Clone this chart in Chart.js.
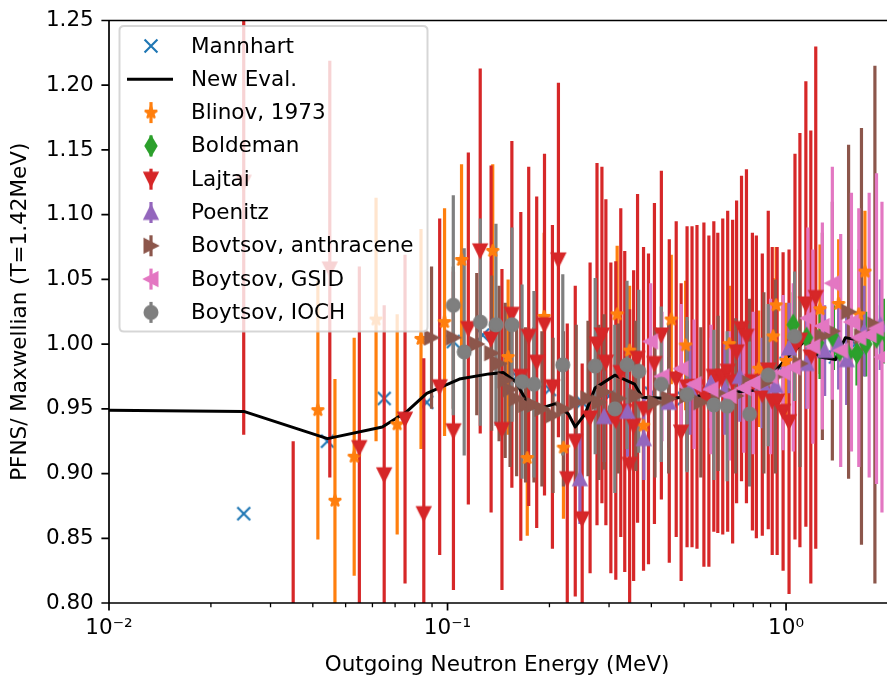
<!DOCTYPE html>
<html><head><meta charset="utf-8">
<script src="https://cdn.jsdelivr.net/npm/chart.js@4.4.0/dist/chart.umd.min.js"></script>
<style>html,body{margin:0;padding:0;background:#fff;}canvas{display:block;}</style>
</head><body>
<canvas id="c" width="893" height="680"></canvas>
<script>
// ---------------- data ----------------
const mannhartE = [0.025,0.0442,0.065,0.0868,0.104,0.127,0.16,0.2,0.25,0.3,0.4,0.5,0.6,0.7,0.8,0.9,1.0,1.2,1.4,1.6,1.8];
const mannhartV = [0.869,0.925,0.958,0.955,1.002,1.007,0.975,0.965,0.955,0.960,0.962,0.958,0.960,0.963,0.965,0.975,0.985,0.995,0.990,1.000,1.005];

const evalE = [0.01,0.025,0.0442,0.0642,0.0759,0.0868,0.1084,0.1327,0.146,0.159,0.1737,0.1858,0.2084,0.2275,0.2384,0.2548,0.2727,0.312,0.357,0.376,0.45,0.55,0.65,0.714,0.84,1.0,1.144,1.257,1.40,1.497,1.72,1.96];
const evalV = [0.949,0.948,0.927,0.936,0.948,0.962,0.973,0.977,0.978,0.971,0.953,0.950,0.954,0.946,0.936,0.946,0.966,0.976,0.969,0.959,0.958,0.960,0.962,0.963,0.965,0.989,1.003,0.990,0.988,1.005,1.002,1.015];

const blinovE = [0.0414,0.0465,0.053,0.0615,0.071,0.0835,0.098,0.110,0.136,0.151,0.172,0.193,0.22,0.317,0.345,0.379,0.458,0.505,0.68,0.83,0.916,0.935,1.0,1.26,1.43,1.64,1.71];
const blinovV = [0.949,0.879,0.913,1.019,0.938,1.004,1.017,1.065,1.072,0.990,0.912,1.021,0.920,1.023,0.995,0.937,1.019,0.999,1.000,0.981,1.006,1.030,0.987,1.027,1.031,1.023,1.056];
const blinovErr = [0.10,0.094,0.092,0.094,0.085,0.085,0.088,0.074,0.067,0.06,0.06,0.065,0.055,0.053,0.05,0.05,0.05,0.05,0.045,0.045,0.045,0.045,0.045,0.05,0.05,0.05,0.047];

const boldemanE = [1.05,1.15,1.26,1.38,1.44,1.52,1.62,1.72,1.85,1.95];
const boldemanV = [1.015,1.005,0.998,1.005,0.995,0.992,0.993,1.000,1.005,1.010];
const boldemanErr = [0.025,0.025,0.025,0.025,0.025,0.025,0.025,0.025,0.025,0.025];

const lajtaiE = [0.0250,0.0350,0.0449,0.0549,0.0650,0.0749,0.0851,0.0948,0.1041,0.1152,0.1249,0.1345,0.1448,0.1549,0.1646,0.1737,0.1834,0.1934,0.2041,0.2126,0.2258,0.2384,0.2499,0.2637,0.2764,0.2858,0.2936,0.3037,0.3141,0.3249,0.3338,0.3451,0.3546,0.3642,0.3793,0.3923,0.4085,0.4282,0.4519,0.4737,0.4898,0.5100,0.5275,0.5456,0.5719,0.5916,0.6118,0.6285,0.6501,0.6723,0.6953,0.7143,0.7386,0.7638,0.7954,0.8171,0.8508,0.8860,0.9102,0.9412,0.9800,1.0205,1.0625,1.0988,1.1442,1.1833,1.2238];
const lajtaiV = [1.125,0.760,1.058,0.920,0.899,0.942,0.869,0.967,0.933,1.012,1.072,1.004,0.934,1.023,0.975,1.006,0.986,1.015,0.967,1.065,0.896,0.925,0.865,0.943,1.000,1.007,0.986,0.943,0.941,0.978,0.948,0.907,0.937,0.989,0.950,0.950,0.985,1.007,0.956,0.973,0.932,0.967,0.967,0.967,0.961,0.956,0.975,0.970,0.975,0.979,0.971,0.994,1.012,1.006,0.971,0.967,0.961,0.980,0.956,0.956,0.948,0.940,0.998,1.003,1.031,0.990,1.036];
const lajtaiErr = [0.195,0.165,0.161,0.140,0.131,0.127,0.120,0.130,0.123,0.136,0.141,0.134,0.124,0.134,0.127,0.131,0.128,0.132,0.125,0.137,0.120,0.120,0.120,0.120,0.140,0.130,0.126,0.120,0.123,0.127,0.124,0.120,0.120,0.127,0.125,0.120,0.124,0.127,0.125,0.122,0.115,0.124,0.124,0.125,0.133,0.128,0.120,0.116,0.122,0.124,0.125,0.117,0.118,0.129,0.115,0.117,0.109,0.123,0.119,0.119,0.123,0.133,0.149,0.160,0.172,0.175,0.194];

const poenitzE = [0.246,0.29,0.34,0.38,0.45,0.52,0.60,0.66,0.73,0.85,0.93,1.02,1.15,1.30,1.43,1.51,1.70,1.90];
const poenitzV = [0.896,0.944,0.948,0.927,0.955,0.965,0.970,0.965,0.975,0.970,0.968,0.997,0.985,0.995,1.000,0.988,1.010,1.015];
const poenitzErr = [0.035,0.035,0.035,0.032,0.035,0.035,0.035,0.035,0.035,0.035,0.035,0.035,0.035,0.035,0.035,0.035,0.035,0.035];

const anthraceneE = [0.0897,0.104,0.122,0.135,0.142,0.148,0.153,0.160,0.170,0.180,0.190,0.205,0.22,0.24,0.26,0.28,0.29,0.32,0.36,0.41,0.45,0.51,0.56,0.63,0.71,0.78,0.86,0.93,1.1,1.28,1.37,1.53,1.67,1.83];
const anthraceneV = [1.005,1.005,1.000,0.993,0.985,0.972,0.965,0.958,0.953,0.953,0.950,0.945,0.950,0.955,0.958,0.955,0.963,0.958,0.960,0.955,0.958,0.960,0.955,0.962,0.960,0.970,0.970,0.975,0.985,1.006,1.010,1.025,1.006,1.015];
const anthraceneErr = [0.055,0.055,0.055,0.06,0.06,0.06,0.06,0.06,0.06,0.06,0.06,0.06,0.06,0.06,0.06,0.06,0.06,0.058,0.058,0.058,0.058,0.058,0.058,0.06,0.06,0.065,0.07,0.075,0.08,0.08,0.10,0.129,0.161,0.20];

const gsidE = [0.398,0.43,0.49,0.535,0.60,0.68,0.75,0.80,0.90,0.98,1.05,1.16,1.20,1.28,1.37,1.45,1.56,1.64,1.76,1.85,1.92];
const gsidV = [1.002,0.975,0.981,0.969,0.965,0.960,0.966,0.970,0.975,0.978,0.982,1.020,0.998,1.014,1.047,0.995,1.017,1.005,1.007,1.012,0.990];
const gsidErr = [0.045,0.05,0.05,0.05,0.05,0.05,0.05,0.055,0.06,0.06,0.065,0.07,0.075,0.08,0.09,0.09,0.10,0.10,0.11,0.12,0.12];

const iochE = [0.104,0.112,0.125,0.139,0.155,0.166,0.180,0.219,0.273,0.312,0.339,0.367,0.428,0.510,0.612,0.670,0.780,0.886,1.06];
const iochV = [1.030,0.994,1.017,1.015,1.015,0.971,0.969,0.984,0.983,0.950,0.984,0.979,0.969,0.961,0.953,0.952,0.946,0.976,1.006];
const iochErr = [0.085,0.08,0.08,0.078,0.075,0.075,0.072,0.07,0.068,0.065,0.065,0.063,0.06,0.06,0.058,0.058,0.056,0.055,0.05];

const xMajorTicks = [0.01, 0.1, 1];
const xTickLabels = ['10\u207B\u00B2', '10\u207B\u00B9', '10\u2070'];
const xMinorTicks = [0.02,0.03,0.04,0.05,0.06,0.07,0.08,0.09,0.2,0.3,0.4,0.5,0.6,0.7,0.8,0.9];
const yTicks = [0.80,0.85,0.90,0.95,1.00,1.05,1.10,1.15,1.20,1.25];
const yTickLabels = ['0.80','0.85','0.90','0.95','1.00','1.05','1.10','1.15','1.20','1.25'];

// ---------------- styling ----------------
const FONT = 'DejaVu Sans';
const FS = 21.5;
const MS = 12.9, MEW = 2.15, ELW = 3.2;

function makeMarker(kind, color) {
  const S = 36, c = document.createElement('canvas');
  c.width = S; c.height = S;
  const g = c.getContext('2d');
  g.translate(S / 2, S / 2);
  g.fillStyle = color; g.strokeStyle = color; g.lineWidth = MEW;
  g.lineJoin = 'miter'; g.miterLimit = 10;
  const h = MS / 2;
  g.beginPath();
  if (kind === 'tri') { g.moveTo(0, -h); g.lineTo(h, h); g.lineTo(-h, h); g.closePath(); }
  else if (kind === 'star') {
    g.lineJoin = 'bevel';
    for (let k = 0; k < 10; k++) {
      const r = k % 2 ? h * 0.381966 : h;
      const a = -Math.PI / 2 + k * Math.PI / 5;
      const px = r * Math.cos(a), py = r * Math.sin(a);
      if (k) g.lineTo(px, py); else g.moveTo(px, py);
    }
    g.closePath();
  }
  else if (kind === 'thin') { g.moveTo(0, -0.7071 * MS); g.lineTo(0.4243 * MS, 0); g.lineTo(0, 0.7071 * MS); g.lineTo(-0.4243 * MS, 0); g.closePath(); }
  else if (kind === 'circle') { g.arc(0, 0, h, 0, Math.PI * 2); }
  else if (kind === 'x') { g.moveTo(-h, -h); g.lineTo(h, h); g.moveTo(-h, h); g.lineTo(h, -h); g.stroke(); return c; }
  g.fill(); g.stroke();
  return c;
}

const series = [
  {label: 'Mannhart', color: '#1f77b4', kind: 'x', rot: 0, E: mannhartE, V: mannhartV, err: null},
  {label: 'New Eval.', color: '#000000', kind: 'line', rot: 0, E: evalE, V: evalV, err: null},
  {label: 'Blinov, 1973', color: '#ff7f0e', kind: 'star', rot: 0, E: blinovE, V: blinovV, err: blinovErr},
  {label: 'Boldeman', color: '#2ca02c', kind: 'thin', rot: 0, E: boldemanE, V: boldemanV, err: boldemanErr},
  {label: 'Lajtai', color: '#d62728', kind: 'tri', rot: 180, E: lajtaiE, V: lajtaiV, err: lajtaiErr},
  {label: 'Poenitz', color: '#9467bd', kind: 'tri', rot: 0, E: poenitzE, V: poenitzV, err: poenitzErr},
  {label: 'Bovtsov, anthracene', color: '#8c564b', kind: 'tri', rot: 90, E: anthraceneE, V: anthraceneV, err: anthraceneErr},
  {label: 'Boytsov, GSID', color: '#e377c2', kind: 'tri', rot: 270, E: gsidE, V: gsidV, err: gsidErr},
  {label: 'Boytsov, IOCH', color: '#7f7f7f', kind: 'circle', rot: 0, E: iochE, V: iochV, err: iochErr}
];
series.forEach(s => { if (s.kind !== 'line') s.img = makeMarker(s.kind, s.color); });

const N = series.length;
const datasets = series.map((s, i) => {
  const data = s.E.map((e, j) => ({x: e, y: s.V[j]}));
  if (s.kind === 'line') {
    return {label: s.label, data, showLine: true, borderColor: '#000', borderWidth: 3,
      borderJoinStyle: 'round', pointRadius: 0, fill: false, order: N - i};
  }
  return {label: s.label, data, showLine: false, pointStyle: s.img, rotation: s.rot,
    pointRadius: 7, borderColor: s.color, backgroundColor: s.color, order: N - i, yerr: s.err};
});

// ---------------- plugins ----------------
const errorBars = {
  id: 'errorBars',
  beforeDatasetDraw(chart, args) {
    if (args.index !== 1) return;
    const {ctx, chartArea: a, scales: {x, y}} = chart;
    ctx.save();
    ctx.beginPath(); ctx.rect(a.left, a.top, a.right - a.left, a.bottom - a.top); ctx.clip();
    ctx.lineWidth = ELW; ctx.lineCap = 'butt';
    chart.data.datasets.forEach(ds => {
      if (!ds.yerr) return;
      ctx.strokeStyle = ds.borderColor;
      ds.data.forEach((p, i) => {
        const px = x.getPixelForValue(p.x);
        ctx.beginPath();
        ctx.moveTo(px, y.getPixelForValue(p.y - ds.yerr[i]));
        ctx.lineTo(px, y.getPixelForValue(p.y + ds.yerr[i]));
        ctx.stroke();
      });
    });
    ctx.restore();
  }
};

const frame = {
  id: 'frame',
  afterDatasetsDraw(chart) {
    const {ctx, chartArea: a, scales: {x, y}} = chart;
    ctx.save();
    ctx.strokeStyle = '#000';
    ctx.lineWidth = 1.7; ctx.lineCap = 'butt';
    ctx.beginPath();
    ctx.moveTo(a.left, a.top); ctx.lineTo(a.right + 2, a.top);
    ctx.moveTo(a.left, a.top); ctx.lineTo(a.left, a.bottom);
    ctx.moveTo(a.left, a.bottom); ctx.lineTo(a.right + 2, a.bottom);
    ctx.stroke();
    ctx.beginPath();
    xMajorTicks.forEach(v => { const px = x.getPixelForValue(v); ctx.moveTo(px, a.bottom); ctx.lineTo(px, a.bottom + 7.6); });
    yTicks.forEach(v => { const py = y.getPixelForValue(v); ctx.moveTo(a.left, py); ctx.lineTo(a.left - 7.6, py); });
    ctx.stroke();
    ctx.lineWidth = 1.3;
    ctx.beginPath();
    xMinorTicks.forEach(v => { const px = x.getPixelForValue(v); ctx.moveTo(px, a.bottom); ctx.lineTo(px, a.bottom + 4.3); });
    ctx.stroke();
    ctx.restore();
  }
};

const legendBox = {
  id: 'legendBox',
  afterDraw(chart) {
    const ctx = chart.ctx;
    const L = 119.5, T = 26, R = 427.5, B = 331.5, r = 4.5;
    ctx.save();
    ctx.beginPath();
    ctx.moveTo(L + r, T); ctx.lineTo(R - r, T); ctx.quadraticCurveTo(R, T, R, T + r);
    ctx.lineTo(R, B - r); ctx.quadraticCurveTo(R, B, R - r, B);
    ctx.lineTo(L + r, B); ctx.quadraticCurveTo(L, B, L, B - r);
    ctx.lineTo(L, T + r); ctx.quadraticCurveTo(L, T, L + r, T);
    ctx.closePath();
    ctx.fillStyle = 'rgba(255,255,255,0.8)'; ctx.fill();
    ctx.strokeStyle = 'rgba(204,204,204,0.8)'; ctx.lineWidth = 2; ctx.stroke();
    const mx = 151, tx = 191, y0 = 46, dy = 33.3;
    ctx.font = FS + 'px "' + FONT + '"';
    ctx.textBaseline = 'middle'; ctx.textAlign = 'left';
    series.forEach((s, i) => {
      const yy = y0 + i * dy;
      if (s.kind === 'line') {
        ctx.strokeStyle = '#000'; ctx.lineWidth = 3;
        ctx.beginPath(); ctx.moveTo(127, yy); ctx.lineTo(173, yy); ctx.stroke();
      } else {
        if (s.err) {
          ctx.strokeStyle = s.color; ctx.lineWidth = ELW;
          ctx.beginPath(); ctx.moveTo(mx, yy - 10.5); ctx.lineTo(mx, yy + 10.5); ctx.stroke();
        }
        ctx.save(); ctx.translate(mx, yy); ctx.rotate(s.rot * Math.PI / 180);
        ctx.drawImage(s.img, -s.img.width / 2, -s.img.height / 2);
        ctx.restore();
      }
      ctx.fillStyle = '#000';
      ctx.fillText(s.label, tx, yy + 1);
    });
    ctx.restore();
  }
};

const tickFont = {family: FONT, size: FS};

new Chart(document.getElementById('c'), {
  type: 'scatter',
  data: {datasets},
  plugins: [errorBars, frame, legendBox],
  options: {
    responsive: false, animation: false, devicePixelRatio: 1, events: [],
    layout: {padding: {left: 0, right: 0, top: 17, bottom: 0}},
    plugins: {legend: {display: false}, tooltip: {enabled: false}},
    scales: {
      x: {
        type: 'logarithmic', min: 0.01, max: 1.96,
        afterBuildTicks: s => { s.ticks = xMajorTicks.map(v => ({value: v})); },
        afterFit: s => { s.height = 77; },
        ticks: {autoSkip: false, maxRotation: 0, minRotation: 0, padding: 5, color: '#000', font: tickFont,
          callback: (v, i) => xTickLabels[i]},
        grid: {drawOnChartArea: false, drawTicks: true, tickLength: 7.6, tickColor: 'rgba(0,0,0,0)'},
        border: {display: false},
        title: {display: true, text: 'Outgoing Neutron Energy (MeV)', color: '#000', font: {family: FONT, size: FS}, padding: {top: 0, bottom: 2}}
      },
      y: {
        min: 0.8, max: 1.25,
        afterBuildTicks: s => { s.ticks = yTicks.map(v => ({value: v})); },
        afterFit: s => { s.width = 109; },
        ticks: {autoSkip: false, padding: 7.6, color: '#000', font: tickFont,
          callback: (v, i) => yTickLabels[i]},
        grid: {drawOnChartArea: false, drawTicks: true, tickLength: 7.6, tickColor: 'rgba(0,0,0,0)'},
        border: {display: false},
        title: {display: true, text: 'PFNS/ Maxwellian (T=1.42MeV)', color: '#000', font: {family: FONT, size: FS}, padding: {top: 8, bottom: 0}}
      }
    }
  }
});
</script>
</body></html>
